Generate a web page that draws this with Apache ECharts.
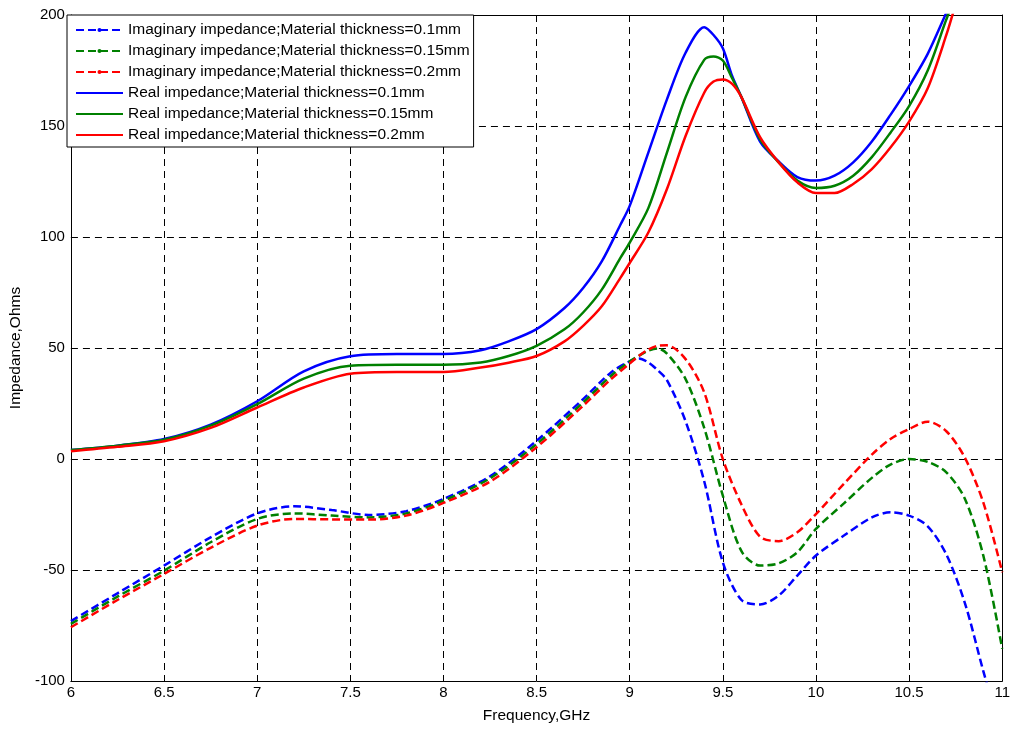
<!DOCTYPE html>
<html><head><meta charset="utf-8">
<script src="https://cdn.jsdelivr.net/npm/echarts@6/dist/echarts.min.js"></script>
<style>html,body{margin:0;padding:0;background:#fff}#c{width:1013px;height:729px}</style>
</head><body><div id="c"></div>
<script>
// Frequency samples (GHz)
const realFreq = [6, 6.25, 6.5, 6.75, 7, 7.25, 7.5, 7.75, 8, 8.2, 8.35, 8.5, 8.65, 8.75, 8.85, 8.95, 9, 9.1, 9.2, 9.3, 9.4, 9.45, 9.5, 9.55, 9.6, 9.7, 9.8, 9.9, 10, 10.1, 10.2, 10.3, 10.4, 10.5, 10.6, 10.7, 10.75];
const realT010 = [4, 6, 9, 15.5, 26, 39.5, 46.3, 47.3, 47.3, 49, 53, 58.5, 68, 77, 89, 105.5, 114, 138, 162, 183, 194.5, 191, 185, 172.5, 163, 143, 134, 127, 125.4, 127.6, 133.6, 143, 155, 168, 182.5, 201, 210];
const realT015 = [4, 6, 8.7, 15, 24.7, 36.2, 42, 42.4, 42.4, 43.5, 46.4, 51, 58.4, 66, 76.3, 90.6, 97.5, 113, 138, 163, 179.8, 181.3, 179.5, 171.5, 163, 144, 133.6, 125.4, 122.1, 123.1, 127.6, 136, 147, 159, 175, 198, 209];
const realT020 = [3.5, 5.5, 8, 14, 23.2, 32.2, 38.4, 39.2, 39.2, 41.2, 43.4, 46.4, 53, 60, 68.8, 81.6, 88.3, 102, 121.6, 145.5, 165, 170, 171, 169, 163, 145, 133.6, 124.6, 119.8, 119.8, 123.9, 130.6, 140.3, 152, 167, 191, 205];

const imagFreq = [6, 6.25, 6.5, 6.75, 7, 7.2, 7.4, 7.6, 7.8, 8, 8.25, 8.5, 8.75, 8.9, 9, 9.05, 9.1, 9.15, 9.2, 9.3, 9.4, 9.5, 9.6, 9.7, 9.8, 9.9, 10, 10.15, 10.3, 10.4, 10.5, 10.6, 10.7, 10.8, 10.9, 11];
const imagT010 = [-73, -60.5, -48, -35.3, -24.5, -21.3, -23, -25.2, -23.5, -18, -7.8, 8.2, 27, 39, 44, 45.3, 43.5, 40, 35.5, 17, -10, -46.5, -63.5, -65.5, -61.5, -52.5, -43.5, -34.5, -26.3, -24, -25.5, -30.3, -43, -65, -96, -125];
const imagT015 = [-74.3, -62, -50.3, -37.5, -27, -24.5, -25.5, -26.3, -24.5, -18.8, -8.7, 6.7, 25.5, 37.5, 44, 46.5, 48.8, 49.8, 47.5, 36, 14, -16.5, -41.5, -48, -47, -42, -31.5, -20, -8.5, -2.5, 0, -1.3, -6, -18, -44, -85.5];
const imagT020 = [-75.8, -63.5, -51.8, -40, -30, -27, -27.2, -27.3, -25.5, -19.8, -10.2, 5.3, 24, 36, 43, 46.5, 49.3, 51, 51.2, 45, 30, 0, -20.5, -35, -37, -33, -24.8, -11.2, 2, 9, 13.5, 16.8, 12.5, 0.5, -20, -51];

const xTicks = {min: 6, max: 11, interval: 0.5};
const yTicks = {min: -100, max: 200, interval: 50};

const names = [
  'Imaginary impedance;Material thickness=0.1mm',
  'Imaginary impedance;Material thickness=0.15mm',
  'Imaginary impedance;Material thickness=0.2mm',
  'Real impedance;Material thickness=0.1mm',
  'Real impedance;Material thickness=0.15mm',
  'Real impedance;Material thickness=0.2mm'
];
const colors = ['#0000ff', '#008000', '#ff0000'];

const pairs = (xs, ys) => xs.map((x, i) => [x, ys[i]]);
const FONT = '"Liberation Sans", Arial, sans-serif';

function mkSeries(name, data, color, dashed) {
  return {
    name, type: 'line', data,
    smooth: 0.3,
    symbol: dashed ? 'circle' : 'none',
    showSymbol: false,
    symbolSize: 4,
    clip: true,
    color,
    itemStyle: {color},
    lineStyle: {color, width: 2.5, type: dashed ? [8, 4] : 'solid'},
    emphasis: {disabled: true},
    silent: true,
    z: dashed ? 3 : 2
  };
}

const chart = echarts.init(document.getElementById('c'), null, {renderer: 'canvas'});
const axisCommon = {
  axisLine: {show: true, onZero: false, lineStyle: {color: '#000', width: 1}},
  axisTick: {show: true, inside: true, length: 5, lineStyle: {color: '#000'}},
};
chart.setOption({
  animation: false,
  backgroundColor: '#fff',
  grid: {left: 68, right: 9, top: 15, bottom: 46, containLabel: false},
  legend: {
    orient: 'vertical', left: 67, top: 15,
    backgroundColor: '#fff', borderColor: '#000', borderWidth: 1, borderRadius: 0,
    padding: [7, 4, 4, 8],
    itemWidth: 47, itemHeight: 5, itemGap: 5,
    selectedMode: false,
    textStyle: {fontFamily: FONT, fontSize: 15.5, color: '#000'},
    data: [
      {name: names[0]}, {name: names[1]}, {name: names[2]},
      {name: names[3], itemStyle: {opacity: 0}},
      {name: names[4], itemStyle: {opacity: 0}},
      {name: names[5], itemStyle: {opacity: 0}}
    ],
    z: 10
  },
  xAxis: [{
    type: 'value', min: xTicks.min, max: xTicks.max, interval: xTicks.interval,
    position: 'bottom',
    name: 'Frequency,GHz', nameLocation: 'middle', nameGap: 27,
    nameTextStyle: {fontFamily: FONT, fontSize: 15.5, color: '#000'},
    ...axisCommon,
    axisLabel: {fontFamily: FONT, fontSize: 15, color: '#000', margin: 4},
    splitLine: {show: true, lineStyle: {color: '#000', width: 1, type: [7, 5]}}
  }, {
    type: 'value', min: xTicks.min, max: xTicks.max, interval: xTicks.interval,
    position: 'top', ...axisCommon,
    axisLabel: {show: false}, splitLine: {show: false}
  }],
  yAxis: [{
    type: 'value', min: yTicks.min, max: yTicks.max, interval: yTicks.interval,
    position: 'left',
    name: 'Impedance,Ohms', nameLocation: 'middle', nameGap: 40,
    nameTextStyle: {fontFamily: FONT, fontSize: 15.5, color: '#000'},
    ...axisCommon,
    axisLabel: {fontFamily: FONT, fontSize: 15, color: '#000', margin: 6},
    splitLine: {show: true, lineStyle: {color: '#000', width: 1, type: [7, 5]}}
  }, {
    type: 'value', min: yTicks.min, max: yTicks.max, interval: yTicks.interval,
    position: 'right', ...axisCommon,
    axisLabel: {show: false}, splitLine: {show: false}
  }],
  series: [
    mkSeries(names[0], pairs(imagFreq, imagT010), colors[0], true),
    mkSeries(names[1], pairs(imagFreq, imagT015), colors[1], true),
    mkSeries(names[2], pairs(imagFreq, imagT020), colors[2], true),
    mkSeries(names[3], pairs(realFreq, realT010), colors[0], false),
    mkSeries(names[4], pairs(realFreq, realT015), colors[1], false),
    mkSeries(names[5], pairs(realFreq, realT020), colors[2], false)
  ]
});
</script>
</body></html>
